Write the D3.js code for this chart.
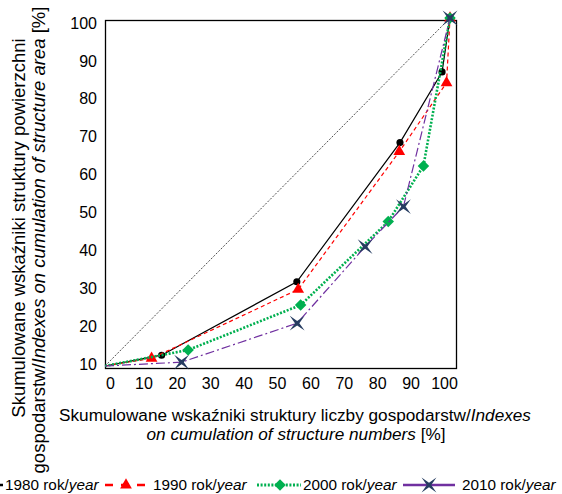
<!DOCTYPE html>
<html lang="pl">
<head>
    <meta charset="UTF-8">
    <title>Lorenz curves</title>
    <script src="https://d3js.org/d3.v7.min.js"></script>
    <style>
        body { margin: 0; background: #fff; }
        text { font-family: "Liberation Sans", Arial, sans-serif; fill: #000; }
    </style>
</head>
<body>
    <script>

        // data
        var years = ['1980', '1990', '2000', '2010']
        var x1980 = [0, 16.4, 55.6, 85.5, 97.7, 100]
        var y1980 = [0, 3.1, 24.2, 64.2, 84.5, 100]
        var x1990 = [0, 13.5, 56.0, 85.3, 99.0, 100]
        var y1990 = [0, 2.2, 22.0, 61.6, 81.4, 100]
        var x2000 = [0, 24.1, 56.7, 82.1, 92.3, 100]
        var y2000 = [0, 4.6, 17.5, 41.5, 57.5, 100]
        var x2010 = [0, 22.2, 55.7, 75.4, 86.5, 100]
        var y2010 = [0, 1.1, 12.3, 34.3, 45.8, 100]
        var equality = [0, 100]
        var xTickLabels = [0, 10, 20, 30, 40, 50, 60, 70, 80, 90, 100]
        var yTickLabels = [10, 20, 30, 40, 50, 60, 70, 80, 90, 100]

        var w = 562, h = 494

        var svg = d3.select('body')
                    .append('svg')
                    .attr('width', w)
                    .attr('height', h)

        // scales
        var xScale = d3.scaleLinear().domain([0, 100]).range([105, 450])
        var yScale = d3.scaleLinear().domain([0, 100]).range([366, 18])
        // the tick labels sit a little off the data grid in the original
        var xLab = d3.scaleLinear().domain([0, 100]).range([110, 444])
        var yLab = d3.scaleLinear().domain([10, 100]).range([364, 23])

        // frame
        svg.append('rect')
            .attr('x', 105.5).attr('y', 20.5)
            .attr('width', 351).attr('height', 348)
            .attr('fill', 'none')
            .attr('stroke', '#000')
            .attr('stroke-width', 1.3)

        // axes (labels only)
        var axisx = d3.axisBottom(xLab).tickValues(xTickLabels).tickSize(0).tickPadding(0)
        svg.append('g').attr('transform', 'translate(0, 378)').call(axisx)
        var axisy = d3.axisLeft(yLab).tickValues(yTickLabels).tickSize(0).tickPadding(0)
        svg.append('g').attr('transform', 'translate(97, 0)').call(axisy)
        svg.selectAll('.domain').remove()
        svg.selectAll('.tick text')
            .attr('font-family', '"Liberation Sans", Arial, sans-serif')
            .attr('font-size', 16)
            .attr('fill', '#111')

        // line of equality
        var line = d3.line().x(d => xScale(d[0])).y(d => yScale(d[1]))
        svg.append('path')
            .attr('d', line(equality.map(v => [v, v])))
            .attr('fill', 'none')
            .attr('stroke', '#222')
            .attr('stroke-width', 0.8)
            .attr('stroke-dasharray', '2,1.5')

        // star marker for 2010
        function star(r, ri) {
            var pts = []
            for (var i = 0; i < 8; i++) {
                var a = Math.PI / 4 + i * Math.PI / 4
                var rr = i % 2 === 0 ? r : ri
                pts.push([rr * Math.cos(a), rr * Math.sin(a)])
            }
            return 'M' + pts.map(p => p[0].toFixed(2) + ',' + p[1].toFixed(2)).join('L') + 'Z'
        }

        var series = [
            { year: years[0], xs: x1980, ys: y1980, color: '#000', width: 1.2, dash: null,
              mark: d3.symbol(d3.symbolCircle, 40)(), mcolor: '#000', rot: 0 },
            { year: years[1], xs: x1990, ys: y1990, color: '#ff0000', width: 1.2, dash: '4,3',
              mark: d3.symbol(d3.symbolTriangle, 60)(), mcolor: '#ff0000', rot: 0 },
            { year: years[2], xs: x2000, ys: y2000, color: '#00b050', width: 2.6, dash: '2,1.6',
              mark: d3.symbol(d3.symbolSquare, 66)(), mcolor: '#00b050', rot: 45 },
            { year: years[3], xs: x2010, ys: y2010, color: '#7030a0', width: 1.2, dash: '9,3,2,3',
              mark: star(10.5, 2.2), mcolor: '#263c61', rot: 0 }
        ]

        series.forEach(function (s) {
            var pts = s.xs.map((x, i) => [x, s.ys[i]])
            svg.append('path')
                .attr('d', line(pts))
                .attr('fill', 'none')
                .attr('stroke', s.color)
                .attr('stroke-width', s.width)
                .attr('stroke-dasharray', s.dash)

            svg.selectAll(null)
                .data(pts.filter(p => p[0] > 0))
                .enter()
                .append('path')
                .attr('d', s.mark)
                .attr('transform', d => 'translate(' + xScale(d[0]) + ',' + yScale(d[1]) + ') rotate(' + s.rot + ')')
                .attr('fill', s.mcolor)
        })

        // axis titles
        var xt = svg.append('text')
            .attr('text-anchor', 'middle')
            .attr('font-size', 17.2)
        xt.append('tspan').attr('x', 295).attr('y', 421)
            .text('Skumulowane wskaźniki struktury liczby gospodarstw/')
        xt.append('tspan').attr('font-style', 'italic').text('Indexes')
        xt.append('tspan').attr('x', 296).attr('y', 440)
            .attr('font-style', 'italic').text('on cumulation of structure numbers ')
        xt.append('tspan').text('[%]')

        var yt = svg.append('text')
            .attr('text-anchor', 'middle')
            .attr('font-size', 18.5)
            .attr('transform', 'rotate(-90)')
        yt.append('tspan').attr('x', -228).attr('y', 25)
            .text('Skumulowane wskaźniki struktury powierzchni')
        yt.append('tspan').attr('x', -240).attr('y', 45)
            .text('gospodarstw/')
        yt.append('tspan').attr('font-style', 'italic').text('Indexes on cumulation of structure area ')
        yt.append('tspan').text('[%]')

        // legend
        var legendPos = [
            { x1: -42, x2: 3, m: -20, tx: 5 },
            { x1: 105, x2: 146, m: 126, tx: 153 },
            { x1: 257, x2: 301, m: 280, tx: 303 },
            { x1: 403, x2: 455, m: 429, tx: 462 }
        ]
        var ly = 485
        series.forEach(function (s, i) {
            var p = legendPos[i]
            svg.append('line')
                .attr('x1', p.x1).attr('x2', p.x2)
                .attr('y1', ly).attr('y2', ly)
                .attr('stroke', s.color)
                .attr('stroke-width', s.width === 1.2 ? 2.3 : 2.8)
                .attr('stroke-dasharray', s.dash === '4,3' ? '8,8' : s.dash === '9,3,2,3' ? null : s.dash)
            svg.append('path')
                .attr('d', s.mark)
                .attr('transform', 'translate(' + p.m + ',' + ly + ') rotate(' + s.rot + ')')
                .attr('fill', s.mcolor)
            var t = svg.append('text')
                .attr('x', p.tx).attr('y', 490)
                .attr('font-size', 15.3)
            t.append('tspan').text(s.year + ' rok/')
            t.append('tspan').attr('font-style', 'italic').text('year')
        })

    </script>
</body>
</html>
